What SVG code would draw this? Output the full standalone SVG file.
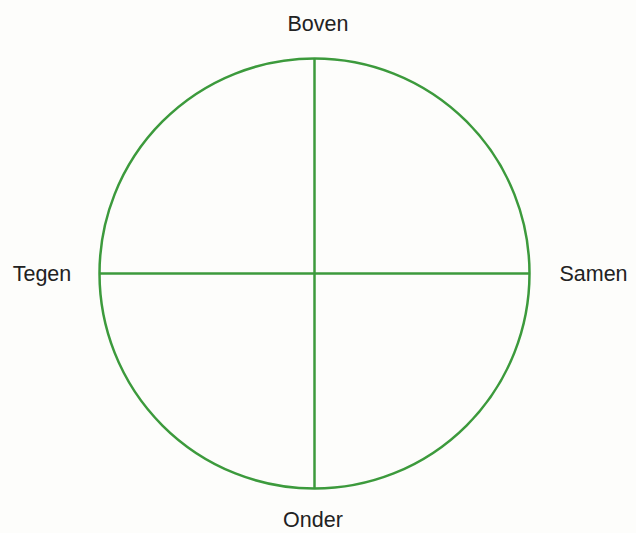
<svg xmlns="http://www.w3.org/2000/svg" width="636" height="533" viewBox="0 0 636 533">
<style>
.l{fill:none;stroke:#3c9a3c;stroke-width:2.5}
text{font-family:"Liberation Sans",Arial,sans-serif;font-size:21.5px;fill:#222}
</style>
<rect width="636" height="533" fill="#fdfdfb"/>
<g id="connectors">
<circle class="l" cx="314.5" cy="273.5" r="215"/>
<line class="l" x1="314.5" y1="58.5" x2="314.5" y2="488.5"/>
<line class="l" x1="99.5" y1="273.5" x2="529.5" y2="273.5"/>
</g>
<g id="boven"><text x="318" y="31" text-anchor="middle">Boven</text></g>
<g id="tegen"><text x="42" y="281" text-anchor="middle">Tegen</text></g>
<g id="samen"><text x="593.5" y="281" text-anchor="middle">Samen</text></g>
<g id="onder"><text x="313" y="527" text-anchor="middle">Onder</text></g>
</svg>
